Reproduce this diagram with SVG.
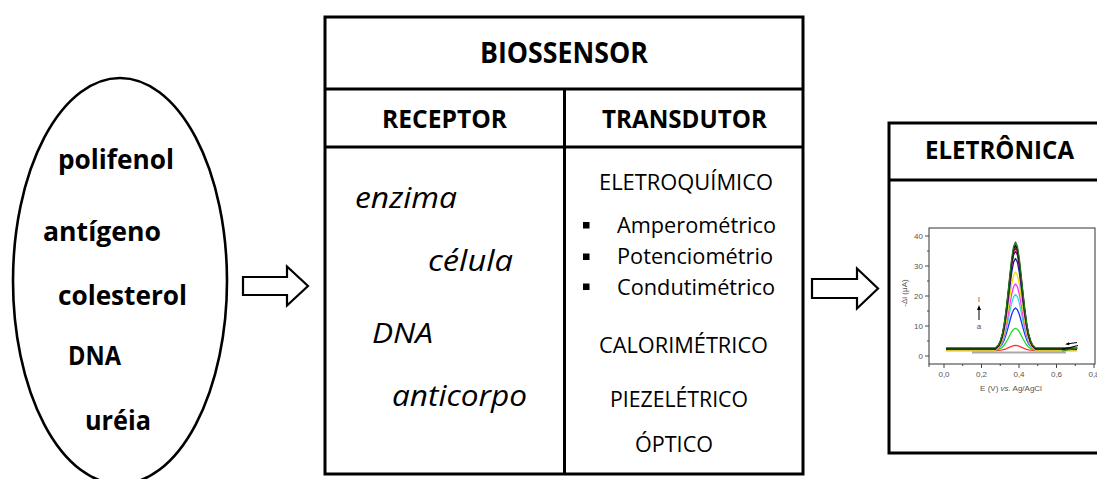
<svg xmlns="http://www.w3.org/2000/svg" width="1097" height="479" viewBox="0 0 1097 479">
<style>
.b{font-family:"Open Sans","Liberation Sans",sans-serif;font-weight:bold;fill:#000}
.r{font-family:"Open Sans","Liberation Sans",sans-serif;fill:#000}
.i{font-family:"Open Sans","Liberation Sans",sans-serif;font-style:italic;fill:#000}
.frame{fill:#fff;stroke:#000;stroke-width:3}
.ln{stroke:#000;stroke-width:3}
.arrow{fill:#fff;stroke:#000;stroke-width:2.2;stroke-linejoin:miter}
.ax{font-family:"Liberation Sans",Arial,sans-serif;font-size:8px;fill:#555}
.tk{stroke:#444;stroke-width:1}
.cv{fill:none;stroke-width:1.3;stroke-linejoin:round}
</style>
<rect width="1097" height="479" fill="#fff"/>

<g id="analitos">
<ellipse cx="120" cy="281" rx="107" ry="203" fill="none" stroke="#000" stroke-width="2.6"/>
<text class="b" font-size="26" x="58" y="169" textLength="116" lengthAdjust="spacingAndGlyphs">polifenol</text>
<text class="b" font-size="26" x="43" y="241" textLength="118" lengthAdjust="spacingAndGlyphs">antígeno</text>
<text class="b" font-size="26" x="58" y="305" textLength="129" lengthAdjust="spacingAndGlyphs">colesterol</text>
<text class="b" font-size="26" x="68" y="365" textLength="53" lengthAdjust="spacingAndGlyphs">DNA</text>
<text class="b" font-size="26" x="85" y="430" textLength="66" lengthAdjust="spacingAndGlyphs">uréia</text>
</g>

<g id="biossensor">
<rect class="frame" x="325" y="17" width="478" height="457"/>
<line class="ln" x1="325" y1="89" x2="803" y2="89"/>
<line class="ln" x1="325" y1="147" x2="803" y2="147"/>
<line class="ln" x1="564.5" y1="89" x2="564.5" y2="474"/>
<text class="b" font-size="28" x="480" y="63" textLength="168" lengthAdjust="spacingAndGlyphs">BIOSSENSOR</text>
<text class="b" font-size="25" x="382" y="128" textLength="125" lengthAdjust="spacingAndGlyphs">RECEPTOR</text>
<text class="b" font-size="25" x="602" y="128" textLength="165" lengthAdjust="spacingAndGlyphs">TRANSDUTOR</text>
<text class="i" font-size="29" x="355" y="208" textLength="102" lengthAdjust="spacingAndGlyphs">enzima</text>
<text class="i" font-size="29" x="428" y="271" textLength="85" lengthAdjust="spacingAndGlyphs">célula</text>
<text class="i" font-size="27" x="372" y="343" textLength="61" lengthAdjust="spacingAndGlyphs">DNA</text>
<text class="i" font-size="29" x="392" y="406" textLength="135" lengthAdjust="spacingAndGlyphs">anticorpo</text>
<text class="r" font-size="21" x="599" y="190" textLength="174" lengthAdjust="spacingAndGlyphs">ELETROQUÍMICO</text>
<rect x="583" y="222" width="6.5" height="6.5" fill="#000"/>
<rect x="583" y="253.5" width="6.5" height="6.5" fill="#000"/>
<rect x="583" y="283.5" width="6.5" height="6.5" fill="#000"/>
<text class="r" font-size="21" x="617" y="233" textLength="159" lengthAdjust="spacingAndGlyphs">Amperométrico</text>
<text class="r" font-size="21" x="617" y="264" textLength="156" lengthAdjust="spacingAndGlyphs">Potenciométrio</text>
<text class="r" font-size="21" x="617" y="295" textLength="158" lengthAdjust="spacingAndGlyphs">Condutimétrico</text>
<text class="r" font-size="21" x="599" y="353" textLength="169" lengthAdjust="spacingAndGlyphs">CALORIMÉTRICO</text>
<text class="r" font-size="21" x="610" y="407" textLength="138" lengthAdjust="spacingAndGlyphs">PIEZELÉTRICO</text>
<text class="r" font-size="21" x="635" y="452" textLength="78" lengthAdjust="spacingAndGlyphs">ÓPTICO</text>
</g>

<g id="eletronica">
<rect class="frame" x="889" y="123" width="220" height="330"/>
<line class="ln" x1="889" y1="180" x2="1100" y2="180"/>
<text class="b" font-size="25" x="925" y="159" textLength="149" lengthAdjust="spacingAndGlyphs">ELETRÔNICA</text>
<g id="grafico">
<rect x="929" y="228" width="166" height="136" fill="none" stroke="#333" stroke-width="1"/>
<g class="tk">
<line x1="925" y1="236" x2="929" y2="236"/><line x1="925" y1="266" x2="929" y2="266"/><line x1="925" y1="296" x2="929" y2="296"/><line x1="925" y1="326" x2="929" y2="326"/><line x1="925" y1="356" x2="929" y2="356"/>
<line x1="927" y1="251" x2="929" y2="251"/><line x1="927" y1="281" x2="929" y2="281"/><line x1="927" y1="311" x2="929" y2="311"/><line x1="927" y1="341" x2="929" y2="341"/>
<line x1="944" y1="364" x2="944" y2="368"/><line x1="981.5" y1="364" x2="981.5" y2="368"/><line x1="1019" y1="364" x2="1019" y2="368"/><line x1="1056.5" y1="364" x2="1056.5" y2="368"/><line x1="1094" y1="364" x2="1094" y2="368"/>
<line x1="962.75" y1="364" x2="962.75" y2="366"/><line x1="1000.25" y1="364" x2="1000.25" y2="366"/><line x1="1037.75" y1="364" x2="1037.75" y2="366"/><line x1="1075.25" y1="364" x2="1075.25" y2="366"/><line x1="929" y1="364" x2="929" y2="367"/>
</g>
<text class="ax" x="923" y="239" text-anchor="end">40</text>
<text class="ax" x="923" y="269" text-anchor="end">30</text>
<text class="ax" x="923" y="299" text-anchor="end">20</text>
<text class="ax" x="923" y="329" text-anchor="end">10</text>
<text class="ax" x="923" y="359" text-anchor="end">0</text>
<text class="ax" x="944" y="377" text-anchor="middle">0,0</text>
<text class="ax" x="981.5" y="377" text-anchor="middle">0,2</text>
<text class="ax" x="1019" y="377" text-anchor="middle">0,4</text>
<text class="ax" x="1056.5" y="377" text-anchor="middle">0,6</text>
<text class="ax" x="1094" y="377" text-anchor="middle">0,8</text>
<text class="ax" font-size="9" x="1011" y="391" text-anchor="middle">E (V) <tspan font-style="italic">vs.</tspan> Ag/AgCl</text>
<text class="ax" font-size="9" x="0" y="0" text-anchor="middle" transform="translate(907 293) rotate(-90)">-Δi (μA)</text>
<line x1="972" y1="352.5" x2="1066" y2="352.5" stroke="#aaa" stroke-width="2"/>
<path d="M -69.5 0 L -20 0 L -17 -0.03 L -15 -0.073 L -13.1 -0.135 L -11.25 -0.23 L -9.4 -0.36 L -7.5 -0.52 L -5.6 -0.693 L -3.75 -0.849 L -1.9 -0.96 L 0 -1 L 1.9 -0.96 L 3.75 -0.849 L 5.6 -0.693 L 7.5 -0.52 L 9.4 -0.36 L 11.25 -0.23 L 13.1 -0.135 L 15 -0.073 L 17 -0.03 L 20 0 L 61.5 0" class="cv" stroke="#ff3030" transform="translate(1015.5 350.6) scale(1 5.1)" vector-effect="non-scaling-stroke"/>
<path d="M -69.5 0 L -20 0 L -17 -0.03 L -15 -0.073 L -13.1 -0.135 L -11.25 -0.23 L -9.4 -0.36 L -7.5 -0.52 L -5.6 -0.693 L -3.75 -0.849 L -1.9 -0.96 L 0 -1 L 1.9 -0.96 L 3.75 -0.849 L 5.6 -0.693 L 7.5 -0.52 L 9.4 -0.36 L 11.25 -0.23 L 13.1 -0.135 L 15 -0.073 L 17 -0.03 L 20 0 L 61.5 0" class="cv" stroke="#22dd22" transform="translate(1015.5 350) scale(1 21.6)" vector-effect="non-scaling-stroke"/>
<path d="M -69.5 0 L -20 0 L -17 -0.03 L -15 -0.073 L -13.1 -0.135 L -11.25 -0.23 L -9.4 -0.36 L -7.5 -0.52 L -5.6 -0.693 L -3.75 -0.849 L -1.9 -0.96 L 0 -1 L 1.9 -0.96 L 3.75 -0.849 L 5.6 -0.693 L 7.5 -0.52 L 9.4 -0.36 L 11.25 -0.23 L 13.1 -0.135 L 15 -0.073 L 17 -0.03 L 20 0 L 61.5 0" class="cv" stroke="#2233ee" transform="translate(1015.5 349.4) scale(1 41.4)" vector-effect="non-scaling-stroke"/>
<path d="M -69.5 0 L -20 0 L -17 -0.03 L -15 -0.073 L -13.1 -0.135 L -11.25 -0.23 L -9.4 -0.36 L -7.5 -0.52 L -5.6 -0.693 L -3.75 -0.849 L -1.9 -0.96 L 0 -1 L 1.9 -0.96 L 3.75 -0.849 L 5.6 -0.693 L 7.5 -0.52 L 9.4 -0.36 L 11.25 -0.23 L 13.1 -0.135 L 15 -0.073 L 17 -0.03 L 20 0 L 61.5 0" class="cv" stroke="#33dddd" transform="translate(1015.5 350) scale(1 55.5)" vector-effect="non-scaling-stroke"/>
<path d="M -69.5 0 L -20 0 L -17 -0.03 L -15 -0.073 L -13.1 -0.135 L -11.25 -0.23 L -9.4 -0.36 L -7.5 -0.52 L -5.6 -0.693 L -3.75 -0.849 L -1.9 -0.96 L 0 -1 L 1.9 -0.96 L 3.75 -0.849 L 5.6 -0.693 L 7.5 -0.52 L 9.4 -0.36 L 11.25 -0.23 L 13.1 -0.135 L 15 -0.073 L 17 -0.03 L 20 0 L 61.5 0" class="cv" stroke="#ff33ff" transform="translate(1015.5 350) scale(1 66)" vector-effect="non-scaling-stroke"/>
<path d="M -69.5 0 L -20 0 L -17 -0.03 L -15 -0.073 L -13.1 -0.135 L -11.25 -0.23 L -9.4 -0.36 L -7.5 -0.52 L -5.6 -0.693 L -3.75 -0.849 L -1.9 -0.96 L 0 -1 L 1.9 -0.96 L 3.75 -0.849 L 5.6 -0.693 L 7.5 -0.52 L 9.4 -0.36 L 11.25 -0.23 L 13.1 -0.135 L 15 -0.073 L 17 -0.03 L 20 0 L 61.5 0" class="cv" stroke="#e6e600" transform="translate(1015.5 350) scale(1 78)" vector-effect="non-scaling-stroke"/>
<path d="M -69.5 0 L -20 0 L -17 -0.03 L -15 -0.073 L -13.1 -0.135 L -11.25 -0.23 L -9.4 -0.36 L -7.5 -0.52 L -5.6 -0.693 L -3.75 -0.849 L -1.9 -0.96 L 0 -1 L 1.9 -0.96 L 3.75 -0.849 L 5.6 -0.693 L 7.5 -0.52 L 9.4 -0.36 L 11.25 -0.23 L 13.1 -0.135 L 15 -0.073 L 17 -0.03 L 20 0 L 61.5 0" class="cv" stroke="#1a1a99" transform="translate(1015.5 349.1) scale(1 90.6)" vector-effect="non-scaling-stroke"/>
<path d="M -69.5 0 L -20 0 L -17 -0.03 L -15 -0.073 L -13.1 -0.135 L -11.25 -0.23 L -9.4 -0.36 L -7.5 -0.52 L -5.6 -0.693 L -3.75 -0.849 L -1.9 -0.96 L 0 -1 L 1.9 -0.96 L 3.75 -0.849 L 5.6 -0.693 L 7.5 -0.52 L 9.4 -0.36 L 11.25 -0.23 L 13.1 -0.135 L 15 -0.073 L 17 -0.03 L 20 0 L 61.5 0" class="cv" stroke="#880088" transform="translate(1015.5 349.1) scale(1 98)" vector-effect="non-scaling-stroke"/>
<path d="M -69.5 0 L -20 0 L -17 -0.03 L -15 -0.073 L -13.1 -0.135 L -11.25 -0.23 L -9.4 -0.36 L -7.5 -0.52 L -5.6 -0.693 L -3.75 -0.849 L -1.9 -0.96 L 0 -1 L 1.9 -0.96 L 3.75 -0.849 L 5.6 -0.693 L 7.5 -0.52 L 9.4 -0.36 L 11.25 -0.23 L 13.1 -0.135 L 15 -0.073 L 17 -0.03 L 20 0 L 61.5 0" class="cv" stroke="#7a2020" transform="translate(1015.5 348.8) scale(1 101)" vector-effect="non-scaling-stroke"/>
<path d="M -69.5 0 L -20 0 L -17 -0.03 L -15 -0.073 L -13.1 -0.135 L -11.25 -0.23 L -9.4 -0.36 L -7.5 -0.52 L -5.6 -0.693 L -3.75 -0.849 L -1.9 -0.96 L 0 -1 L 1.9 -0.96 L 3.75 -0.849 L 5.6 -0.693 L 7.5 -0.52 L 9.4 -0.36 L 11.25 -0.23 L 13.1 -0.135 L 15 -0.073 L 17 -0.03 L 20 0 L 61.5 0" class="cv" stroke="#000" stroke-width="1.6" transform="translate(1015.5 348.5) scale(1 103.5)" vector-effect="non-scaling-stroke"/>
<path d="M -69.5 0 L -20 0 L -17 -0.03 L -15 -0.073 L -13.1 -0.135 L -11.25 -0.23 L -9.4 -0.36 L -7.5 -0.52 L -5.6 -0.693 L -3.75 -0.849 L -1.9 -0.96 L 0 -1 L 1.9 -0.96 L 3.75 -0.849 L 5.6 -0.693 L 7.5 -0.52 L 9.4 -0.36 L 11.25 -0.23 L 13.1 -0.135 L 15 -0.073 L 17 -0.03 L 20 0 L 61.5 0" class="cv" stroke="#1f7a1f" stroke-width="1.4" transform="translate(1015.5 347.9) scale(1 105.9)" vector-effect="non-scaling-stroke"/>
<path d="M 1062 349 L 1070 347.5 L 1078 345.5" fill="none" stroke="#000" stroke-width="1.2"/>
<path d="M 1062 351 L 1070 349.5 L 1078 348" fill="none" stroke="#2a8a2a" stroke-width="1"/>
<line x1="1077" y1="342.5" x2="1068" y2="343.8" stroke="#000" stroke-width="1"/>
<polygon points="1065,344.2 1069,342.3 1069.4,345.3" fill="#000"/>
<line x1="979" y1="320" x2="979" y2="309" stroke="#000" stroke-width="1"/>
<polygon points="979,305 977,310 981,310" fill="#000"/>
<text class="ax" font-size="7" x="979" y="302" text-anchor="middle">l</text>
<text class="ax" font-size="7" x="979" y="329" text-anchor="middle">a</text>
</g>
</g>

<g id="conectores">
<polygon class="arrow" points="243,277 287,277 287,266.5 308,286 287,305.5 287,295 243,295"/>
<polygon class="arrow" points="812,279 857,279 857,268.5 878,288.5 857,308.5 857,298 812,298"/>
</g>
</svg>
